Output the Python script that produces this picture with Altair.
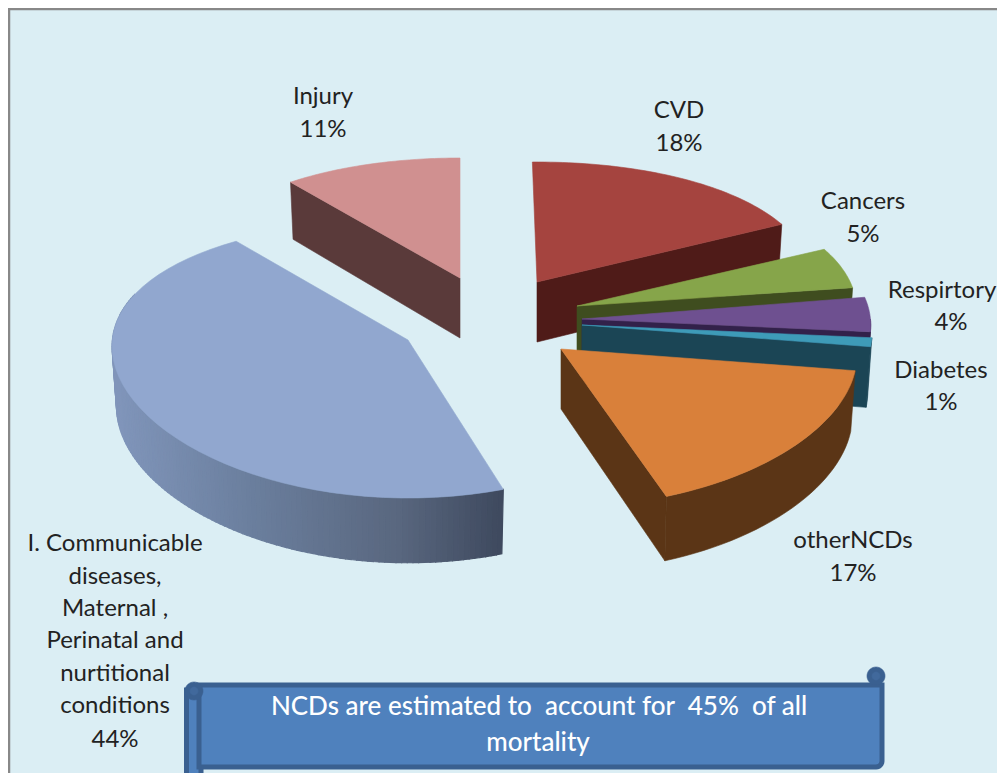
import math
import altair as alt

# ---- data ----
SLICE_NAMES = ["CVD", "Cancers", "Respirtory", "Diabetes", "otherNCDs",
               "I. Communicable diseases, Maternal , Perinatal and nurtitional conditions", "Injury"]
SLICE_VALUES = [18, 5, 4, 1, 17, 44, 11]
TOP_COLORS = ["#A5443F", "#86A54A", "#6E5090", "#3E9BB8", "#D9803A", "#91A7CF", "#D09090"]
WALL_COLORS = ["#4F1B18", "#3F4D1F", "#32214A", "#1B4555", "#5B3516", "#59677F", "#5A3A3A"]
# exploded slice apex on the page, rotation of start/end edges and horizontal stretch
APEX = [(537, 282), (577, 306), (582, 319), (582, 325), (561, 349), (408, 340), (460, 278)]
ROTATE = [-1, -0.5, -2, -2, -2, 0, 0]
ROTATE_END = [-1, -0.5, -2, -2, -2, 2.5, 0]
STRETCH = [0.97, 0.975, 1.005, 1.01, 1.03, 1.03, 0.96]
COMM_WALL_STOPS = [(117, "#8095BA"), (250, "#6B7F9E"), (400, "#59677F"), (502, "#3F4A5F")]

LABEL_LINES = [
    (["Injury", "11%"], 323, [97, 130]),
    (["CVD", "18%"], 679, [111, 144]),
    (["Cancers", "5%"], 863, [202, 235]),
    (["Respirtory"], 942, [291]),
    (["4%"], 951, [323]),
    (["Diabetes", "1%"], 941, [371, 403]),
    (["otherNCDs", "17%"], 853, [541, 574]),
    (["I. Communicable", "diseases,", "Maternal ,", "Perinatal and", "nurtitional", "conditions", "44%"],
     115, [544, 577, 609, 641, 674, 706, 740]),
]
BANNER_LINES = ["NCDs are estimated to \u00a0account for \u00a045% \u00a0of all", "mortality"]

OFF = 8  # page margin
DEPTH = 60


def pt(x, y):
    return [x - OFF, y - OFF]


def top_xy(i, deg):
    t = math.radians(deg)
    c = math.cos(t)
    ax, ay = APEX[i]
    return ax + (287 - 13 * c) * STRETCH[i] * math.sin(t), ay - c * (139 - 19 * c)


def bot_xy(i, deg):
    x, y = top_xy(i, deg)
    ax, ay = APEX[i]
    return ax + (x - ax) * 0.985, ay + DEPTH + (y - ay) * 1.03


def feature(points, fill, stroke=None, sw=0.6):
    ring = [pt(x, y) for x, y in points]
    ring.append(ring[0])
    return {"type": "Feature", "geometry": {"type": "Polygon", "coordinates": [ring]},
            "properties": {"fill": fill, "stroke": stroke or fill, "sw": sw}}


def ellipse(cx, cy, r):
    return [(cx + r * math.cos(k * math.pi / 18), cy + r * math.sin(k * math.pi / 18)) for k in range(36)]


def steps(a, b, n):
    return [a + (b - a) * k / n for k in range(n + 1)]


def lerp_hex(stops, x):
    x = max(stops[0][0], min(stops[-1][0], x))
    for (x0, c0), (x1, c1) in zip(stops, stops[1:]):
        if x <= x1:
            f = (x - x0) / (x1 - x0)
            v = [round(int(c0[j:j + 2], 16) * (1 - f) + int(c1[j:j + 2], 16) * f) for j in (1, 3, 5)]
            return "#%02X%02X%02X" % tuple(v)
    return stops[-1][1]


features = [feature([(9, 9), (1030, 9), (1030, 800), (9, 800)], "#DBEEF4", "#888888", 2.5)]

total = sum(SLICE_VALUES)
ranges = []
cum = 0
for v in SLICE_VALUES:
    ranges.append((cum * 360 / total, (cum + v) * 360 / total))
    cum += v

for i in [6, 0, 1, 2, 3, 4, 5]:
    a0 = ranges[i][0] + ROTATE[i]
    a1 = ranges[i][1] + ROTATE_END[i]
    ax, ay = APEX[i]
    apex_b = (ax, ay + DEPTH)
    wall = WALL_COLORS[i]
    if i == 6:
        features.append(feature([(ax, ay), top_xy(i, a0), bot_xy(i, a0), apex_b], wall))
    elif i != 5:
        features.append(feature([(ax, ay), top_xy(i, a1), bot_xy(i, a1), apex_b], wall))
    if 90 < a1 < 280 or i == 5:
        lo, hi = max(a0, 90), min(a1, 290)
        if i == 5:
            ts = steps(lo, hi, 120)
            for u, w in zip(ts, ts[1:]):
                quad = [top_xy(i, u), top_xy(i, w), bot_xy(i, w), bot_xy(i, u)]
                features.append(feature(quad, lerp_hex(COMM_WALL_STOPS, quad[0][0]), sw=1.2))
        else:
            ts = steps(lo, hi, 30)
            features.append(feature([top_xy(i, u) for u in ts] + [bot_xy(i, u) for u in reversed(ts)], wall))
    ts = steps(a0, a1, 50)
    features.append(feature([(ax, ay)] + [top_xy(i, u) for u in ts], TOP_COLORS[i]))

DARK, BLUE = "#3A6090", "#4F81BD"
features.append(feature([(186.5, 690), (201, 690), (201, 790), (186.5, 790)], BLUE, DARK, 5))
features.append(feature(
    [(199, 685), (882, 685), (882, 761)] +
    [(876 + 6 * math.cos(k * math.pi / 12), 761 + 6 * math.sin(k * math.pi / 12)) for k in range(0, 7)] +
    [(199, 767)], BLUE, DARK, 5))
features.append(feature(ellipse(194, 691, 9), DARK))
features.append(feature(ellipse(194, 691, 4), "#41699C"))
features.append(feature(ellipse(876, 676, 9), DARK))
features.append(feature(ellipse(876, 676, 4), "#41699C"))

shapes = alt.Chart(alt.Data(values=features)).mark_geoshape().encode(
    fill=alt.Fill("properties.fill:N", scale=None, legend=None),
    stroke=alt.Stroke("properties.stroke:N", scale=None, legend=None),
    strokeWidth=alt.StrokeWidth("properties.sw:Q", scale=None, legend=None),
).project(type="identity", scale=1, translate=[0, 0])

rows = []
for lines, x, ys in LABEL_LINES:
    for s, y in zip(lines, ys):
        rows.append({"s": s, "x": x - OFF, "y": y - OFF})
labels = alt.Chart(alt.Data(values=rows)).mark_text(
    font="Lato", fontSize=24, color="#222222", align="center", baseline="middle"
).encode(x=alt.X("x:Q", scale=None), y=alt.Y("y:Q", scale=None), text="s:N")

banner_rows = [{"s": BANNER_LINES[0], "x": 539 - OFF, "y": 707 - OFF},
               {"s": BANNER_LINES[1], "x": 538 - OFF, "y": 743 - OFF}]
banner = alt.Chart(alt.Data(values=banner_rows)).mark_text(
    font="Lato", fontSize=26, fontWeight=500, color="#FFFFFF", align="center", baseline="middle"
).encode(x=alt.X("x:Q", scale=None), y=alt.Y("y:Q", scale=None), text="s:N")

chart = alt.layer(shapes, labels, banner).properties(
    width=989, height=765, padding=0, background="#FFFFFF",
    autosize=alt.AutoSizeParams(type="none"),
).configure_view(stroke=None)

chart.save("out.html", embed_options={"renderer": "svg", "actions": False})
